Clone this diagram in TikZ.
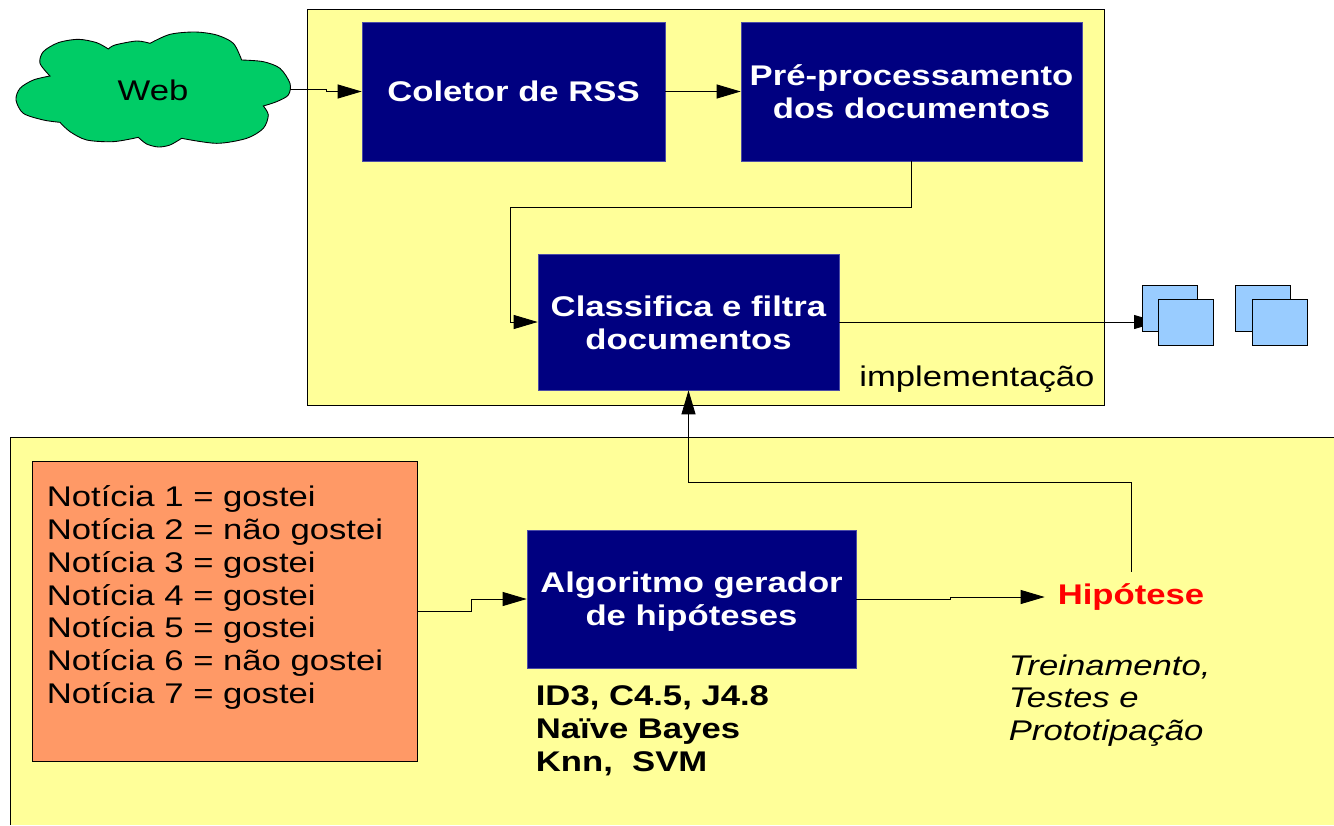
\documentclass[tikz,border=0pt]{standalone}
\usepackage{fontspec}
\setmainfont[FakeStretch=1.218]{Liberation Sans}
\usetikzlibrary{arrows.meta}
\definecolor{painel}{HTML}{FFFF99}
\definecolor{caixa}{HTML}{000080}
\definecolor{nuvem}{HTML}{00CC66}
\definecolor{laranja}{HTML}{FF9966}
\definecolor{azul}{HTML}{99CCFF}
\tikzset{
  procbox/.style={fill=caixa,draw=caixa!70,text=white,font=\fontsize{16.2}{18.7}\selectfont\bfseries,align=center,inner sep=0pt},
  docbox/.style={fill=azul,draw=black,line width=0.5pt,minimum width=1.1cm,minimum height=0.92cm,inner sep=0pt},
  rotulo/.style={font=\fontsize{16.2}{18.7}\selectfont,align=left,inner sep=0pt,anchor=west},
  seta/.style={-{Triangle[length=0.48cm,width=0.28cm]},line width=0.5pt},
}
\begin{document}
\begin{tikzpicture}[x=0.02cm,y=-0.02cm]
        \useasboundingbox (0,0) rectangle (1334,825) ;
        % paineis
        \draw[fill=painel,line width=0.5pt] (307,9) rectangle (1104,405) ;
        \fill[painel] (10,437) rectangle (1334,825) ;
        \draw[line width=0.5pt] (10,825) -- (10,437) -- (1334,437) ;
        % nuvem
        \begin{scope}[x=0.00667cm,y=-0.00667cm]
        \draw[fill=nuvem,line width=0.5pt]
          plot[smooth] coordinates {(150,228) (120,190) (130,155) (175,128) (235,118) (290,128) (325,147)}
          -- plot[smooth] coordinates {(325,147) (345,135) (410,123) (450,130)}
          -- plot[smooth] coordinates {(450,130) (510,103) (585,96) (650,105) (700,130) (725,180)}
          -- plot[smooth] coordinates {(725,180) (790,185) (840,205) (870,250) (865,285) (830,305) (790,318)}
          -- plot[smooth] coordinates {(790,318) (805,345) (790,385) (740,415) (650,430) (545,415)}
          -- plot[smooth] coordinates {(545,415) (510,435) (475,441) (440,432) (415,412)}
          -- plot[smooth] coordinates {(415,412) (340,425) (260,420) (210,395) (180,367)}
          -- plot[smooth] coordinates {(180,367) (130,360) (70,340) (48,300) (60,265) (100,240) (150,228)}
          -- cycle ;
        \end{scope}
        \node[rotulo,anchor=center] (web) at (153,90) {Web} ;
        \coordinate (webout) at (290,89) ;
        % caixas
        \node[procbox,minimum width=6.06cm,minimum height=2.78cm] (coletor) at (513.5,91.5) {Coletor de RSS} ;
        \node[procbox,minimum width=6.82cm,minimum height=2.78cm] (prepro) at (911.5,91.5) {Pré-processamento\\dos documentos} ;
        \node[procbox,minimum width=6.02cm,minimum height=2.72cm] (classif) at (688.5,322) {\rule{0pt}{0.45cm}Classifica e filtra\\documentos} ;
        \node[procbox,minimum width=6.58cm,minimum height=2.76cm] (algo) at (691.5,599) {\rule{0pt}{0.53cm}Algoritmo gerador\\de hipóteses} ;
        \node[rotulo] (impl) at (859,379) {implementação} ;
        \node[fill=laranja,draw=black,line width=0.5pt,minimum width=7.7cm,minimum height=6cm,inner sep=0pt] (noticias) at (224.5,611) {} ;
        \node[rotulo] (lista) at (46.5,597.5) {Notícia 1 = gostei\\Notícia 2 = não gostei\\Notícia 3 = gostei\\Notícia 4 = gostei\\Notícia 5 = gostei\\Notícia 6 = não gostei\\Notícia 7 = gostei} ;
        \node[rotulo,font=\fontsize{16.2}{18.7}\selectfont\bfseries] (algos) at (535.5,730.5) {ID3, C4.5, J4.8\\Naïve Bayes\\Knn,\ \ SVM} ;
        \node[rotulo,anchor=center,text=red,font=\fontsize{16.2}{18.7}\selectfont\bfseries,minimum width=3.44cm,minimum height=1cm] (hipotese) at (1131,597) {Hipótese} ;
        \node[rotulo,font=\fontsize{16.2}{18.7}\selectfont\itshape] (treino) at (1008.5,700.5) {Treinamento,\\Testes e\\Prototipação} ;
        % conectores
        \draw[seta] (webout) -- ++(36,0) -- ++(0,2.5) -- (coletor.west) ;
        \draw[seta] (coletor.east) -- (prepro.west) ;
        \draw[seta] (prepro.south) -- ++(0,46) -| (510,322) -- (classif.west) ;
        \draw[seta] (noticias.east) -- ++(54,0) -- ++(0,-12) -- (algo.west) ;
        \draw[seta] (algo.east) -- ++(94,0) -- ++(0,-2) -- (hipotese.west) ;
        \draw[seta] (hipotese.north) -- (1131,482) -| (classif.south) ;
        \coordinate (docin) at (1158,322) ;
        \draw[seta] (classif.east) -- (docin) ;
        % documentos
        \node[docbox] (doca) at (1169.5,308) {} ;
        \node[docbox] (docb) at (1186,322) {} ;
        \node[docbox] (docc) at (1263,308) {} ;
        \node[docbox] (docd) at (1279.5,322) {} ;
\end{tikzpicture}
\end{document}
